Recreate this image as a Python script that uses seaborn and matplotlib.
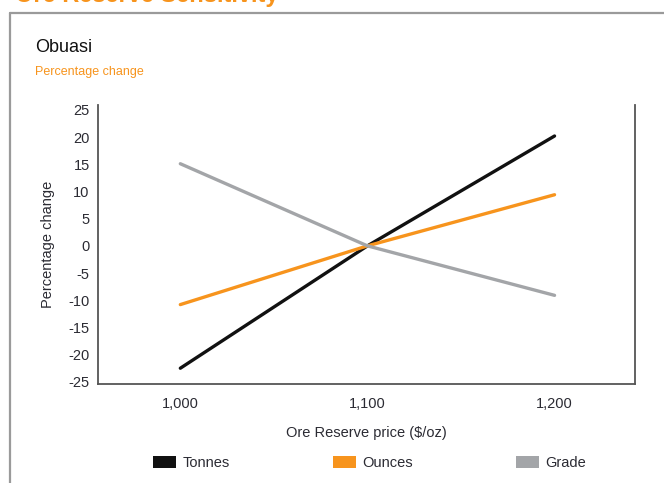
import matplotlib
matplotlib.use("Agg")
import matplotlib.pyplot as plt
from matplotlib.patches import Patch
from matplotlib.lines import Line2D
import matplotlib.ticker as mticker
import seaborn as sns
import pandas as pd

# Ore Reserve price points ($/oz)
prices = [1000, 1100, 1200]
# Percentage change per series
tonnes = [-22.5, 0.0, 20.2]
ounces = [-10.8, 0.0, 9.4]
grade = [15.1, 0.0, -9.1]

series_names = ["Tonnes", "Ounces", "Grade"]
series_colors = ["#111111", "#f7941d", "#a3a5a8"]
y_ticks = [25, 20, 15, 10, 5, 0, -5, -10, -15, -20, -25]

df = pd.DataFrame({
    "price": prices * 3,
    "change": tonnes + ounces + grade,
    "series": [s for s in series_names for _ in prices],
})

sns.set_theme(style="white")
plt.rcParams["font.family"] = ["Liberation Sans", "DejaVu Sans"]
plt.rcParams["axes.unicode_minus"] = False

W, H = 664, 483
fig = plt.figure(figsize=(W / 100, H / 100), dpi=100)
ax = fig.add_axes([98 / W, 1 - 384 / H, (635 - 98) / W, (384 - 105) / H])

palette = dict(zip(series_names, series_colors))
sns.lineplot(data=df, x="price", y="change", hue="series", palette=palette,
             linewidth=2.4, ax=ax, legend=False, zorder=3)

ax.set_xlim(956, 1243)
ax.set_ylim(-25.4, 25.9)
ax.set_xticks(prices)
ax.xaxis.set_major_formatter(mticker.FuncFormatter(lambda v, p: f"{int(v):,}"))
ax.set_yticks(y_ticks)

text_col = "#2b2b33"
ax.tick_params(axis="x", direction="in", length=4, width=1, color="#555555",
               labelsize=10.5, labelcolor=text_col, pad=9)
ax.tick_params(axis="y", length=0, labelsize=10.5, labelcolor=text_col, pad=6)

for side in ["left", "bottom", "right"]:
    ax.spines[side].set_visible(True)
    ax.spines[side].set_color("#555555")
    ax.spines[side].set_linewidth(1.3)
ax.spines["top"].set_visible(False)
ax.grid(False)

ax.set_xlabel("Ore Reserve price ($/oz)", fontsize=10.5, color=text_col, labelpad=11)
ax.set_ylabel("Percentage change", fontsize=10.5, color=text_col, labelpad=10)

# Panel frame (left and top rules)
fig.add_artist(Line2D([10 / W, 10 / W], [0, 1 - 13 / H], color="#9a9a9a", lw=1.6,
                      transform=fig.transFigure))
fig.add_artist(Line2D([10 / W, 1.0], [1 - 13 / H, 1 - 13 / H], color="#9a9a9a", lw=1.6,
                      transform=fig.transFigure))

# Section heading, running off the top edge
fig.text(15 / W, 1 - 2 / H, "Ore Reserve Sensitivity", fontsize=17, fontweight="bold",
         color="#f7941d", ha="left", va="baseline")

fig.text(35 / W, 1 - 47 / H, "Obuasi", fontsize=13, color="#111111",
         ha="left", va="center")
fig.text(35 / W, 1 - 72 / H, "Percentage change", fontsize=9, color="#f7941d",
         ha="left", va="center")

handles = [Patch(facecolor=c, edgecolor="none", label=n)
           for n, c in zip(series_names, series_colors)]
fig.legend(handles=handles, loc="center left", bbox_to_anchor=(153 / W, 1 - 463 / H),
           ncol=3, frameon=False, fontsize=10.5, handlelength=1.55, handleheight=0.8,
           handletextpad=0.45, columnspacing=7.1, borderpad=0, borderaxespad=0,
           labelcolor=text_col)

fig.savefig("out.png", dpi=100, facecolor="white")
